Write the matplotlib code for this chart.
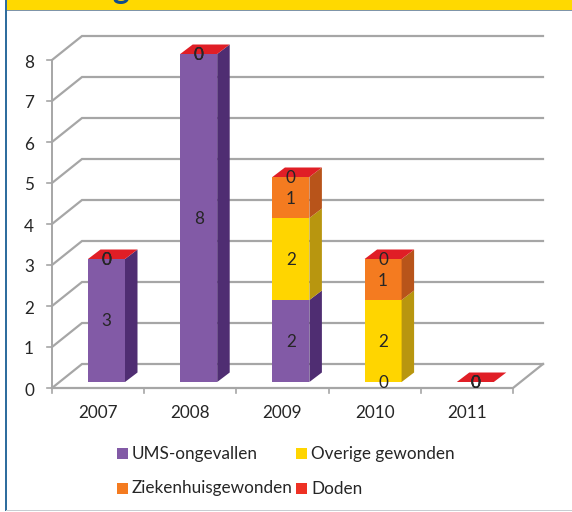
import numpy as np
import matplotlib
matplotlib.use('Agg')
import matplotlib.pyplot as plt
from matplotlib.patches import Polygon, Rectangle

plt.rcParams['font.family'] = ['Lato', 'DejaVu Sans']

years = ['2007', '2008', '2009', '2010', '2011']
ums = [3, 8, 2, 0, 0]
overig = [0, 0, 2, 2, 0]
zieken = [0, 0, 1, 1, 0]
doden = [0, 0, 0, 0, 0]
y_ticks = [0, 1, 2, 3, 4, 5, 6, 7, 8]

series_names = ['UMS-ongevallen', 'Overige gewonden', 'Ziekenhuisgewonden', 'Doden']
front_colors = ['#825AA6', '#FFD500', '#F47B20', '#E01E26']
side_colors = ['#4F2D72', '#B8960F', '#B8541A', '#A81A1E']
legend_colors = ['#825AA6', '#FFD500', '#F47B20', '#EE3124']
text_color = '#262626'
grid_color = '#a6a6a6'

W, H = 572, 512
fig = plt.figure(figsize=(W / 100, H / 100), dpi=100, facecolor='white')

# plain page elements round the chart
bg = fig.add_axes([0, 0, 1, 1])
bg.set_xlim(0, W)
bg.set_ylim(H, 0)
bg.axis('off')
bg.add_patch(Rectangle((6, 0), W - 6, 9.5, color='#FFD900', lw=0))
bg.add_patch(Rectangle((6, 9.5), W - 6, 1.5, color='#7f95a8', lw=0))
bg.add_patch(Rectangle((5, 0), 2.2, 511, color='#2f6d9e', lw=0))
bg.add_patch(Rectangle((6, 510), W - 6, 1.2, color='#c8cdd2', lw=0))
# title is almost entirely cropped off in the picture
bg.text(25, -1.5, 'Verongelukt', color='#0f4c8a', fontsize=23, fontweight='bold',
        va='baseline')

# front plane of the chart: 0-5 categories, 0-8 units
x0, x1 = 52, 513
y0, y8 = 388, 60
ax = fig.add_axes([x0 / W, 1 - y0 / H, (x1 - x0) / W, (y0 - y8) / H])
ax.set_xlim(0, 5)
ax.set_ylim(0, 8)
ax.axis('off')

px_x = 5 / (x1 - x0)
px_y = 8 / (y0 - y8)
wall_dx, wall_dy = 30 * px_x, 24 * px_y
bar_oy = 6 * px_y
bar_dx, bar_dy = 12.5 * px_x, 9.5 * px_y
bar_w = 37 * px_x
bar_left = 36 * px_x

# walls
for v in y_ticks:
    ax.plot([0, wall_dx, 5 + wall_dx], [v, v + wall_dy, v + wall_dy], color=grid_color,
            lw=1.6, clip_on=False, solid_joinstyle='miter', zorder=1)
    ax.plot([-5 * px_x, 0], [v, v], color=grid_color, lw=1.2, clip_on=False, zorder=1)
    ax.text(-23 * px_x, v - 2.5 * px_y, str(v), ha='center', va='center', fontsize=12.3,
            color=text_color)
ax.plot([0, 0], [0, 8], color=grid_color, lw=1.4, clip_on=False, zorder=1)
ax.plot([0, 5, 5 + wall_dx], [0, 0, wall_dy], color=grid_color, lw=1.6, clip_on=False, zorder=1)
for i in range(6):
    ax.plot([i, i], [0, -5 * px_y], color=grid_color, lw=1.2, clip_on=False, zorder=1)
for i, year in enumerate(years):
    ax.text(i + 0.5, -25 * px_y, year, ha='center', va='center', fontsize=12.3, color=text_color)

# stacked 3D bars
stacks = [ums, overig, zieken, doden]
for i in range(len(years)):
    left = i + bar_left
    right = left + bar_w
    base = bar_oy
    cx = (left + right) / 2
    for k, values in enumerate(stacks):
        v = values[i]
        top = base + v
        if v > 0:
            ax.add_patch(Rectangle((left, base), bar_w, v, color=front_colors[k], lw=0,
                                   clip_on=False, zorder=3))
            ax.add_patch(Polygon([(right, base), (right + bar_dx, base + bar_dy),
                                  (right + bar_dx, top + bar_dy), (right, top)],
                                 color=side_colors[k], lw=0, clip_on=False, zorder=3))
        base = top
    # top cap takes the colour of the zero-height Doden segment
    ax.add_patch(Polygon([(left, base), (right, base), (right + bar_dx, base + bar_dy),
                          (left + bar_dx, base + bar_dy)],
                         color=front_colors[3], lw=0, clip_on=False, zorder=3))
    # value labels, zeros overprint each other like in the original
    base = bar_oy
    for k, values in enumerate(stacks):
        v = values[i]
        ax.text(cx, base + v / 2 - 1 * px_y, str(v), ha='center', va='center', fontsize=12.3,
                color=text_color, zorder=5)
        base += v

# legend
legend_pos = [(117, 453), (296, 453), (117, 488), (296, 488)]
for (lx, ly), name, c in zip(legend_pos, series_names, legend_colors):
    bg.add_patch(Rectangle((lx, ly - 5.5), 11, 11, color=c, lw=0))
    bg.text(lx + 15, ly + 0.5, name, va='center', ha='left', fontsize=12.3, color=text_color)

plt.savefig('out.png', dpi=100)
